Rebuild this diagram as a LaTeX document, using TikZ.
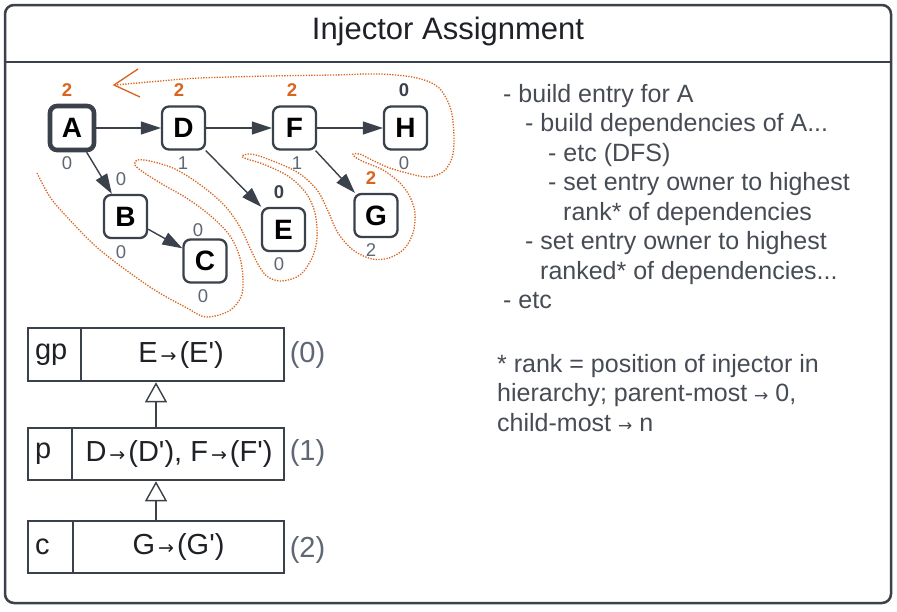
\documentclass[tikz,border=0pt]{standalone}
\usepackage{fontspec}
\setmainfont{Liberation Sans}
\newfontfamily\arrowfont{DejaVu Sans}
\usetikzlibrary{arrows.meta}
\definecolor{ink}{HTML}{3A414A}
\definecolor{orng}{HTML}{D9641E}
\definecolor{lgray}{HTML}{5F6773}
\definecolor{txt}{HTML}{474C54}
\definecolor{blk}{HTML}{1E2125}
\newcommand{\myarr}{{\hspace{3pt}\arrowfont\fontsize{19}{19}\selectfont →\hspace{3pt}}}
\newcommand{\smarr}{{\arrowfont\fontsize{17}{17}\selectfont →}}
\newcommand{\q}{\textquotesingle}
\begin{document}
\begin{tikzpicture}[x=1pt,y=-1pt,
  gnode/.style={draw=ink, line width=2.3pt, rounded corners=7pt, fill=white,
    minimum size=43pt, inner sep=0pt, text=black, font=\fontsize{28}{28}\selectfont\bfseries},
  edge/.style={draw=ink, line width=1.4pt, -{Triangle[length=20pt,width=13pt]}},
  olab/.style={text=orng, font=\fontsize{18.5}{18.5}\selectfont\bfseries, inner sep=0pt},
  dlab/.style={text=ink, font=\fontsize{18.5}{18.5}\selectfont\bfseries, inner sep=0pt},
  glab/.style={text=lgray, font=\fontsize{18.5}{18.5}\selectfont, inner sep=0pt},
  box/.style={draw=ink, line width=2.5pt, inner sep=0pt},
  cell/.style={draw=ink, line width=2.5pt, inner xsep=7pt, inner ysep=0pt, align=left,
    text=blk, font=\fontsize{29}{29}\selectfont},
  boxtext/.style={text=blk, font=\fontsize{29}{29}\selectfont, inner sep=0pt},
  rank/.style={text=lgray, font=\fontsize{29}{29}\selectfont, inner sep=0pt},
  inh/.style={draw=ink, line width=1.4pt, -{Triangle[open, length=20pt, width=22pt, fill=white]}},
  note/.style={text=txt, font=\fontsize{25}{29.5}\selectfont, inner sep=0pt, anchor=base west},
  dotpath/.style={draw=orng, line width=1.3pt, dash pattern=on 1.3pt off 1.4pt}
]
\useasboundingbox (0,0) rectangle (897,611);
\fill[white] (0,0) rectangle (897,611);

% frame
\draw[ink, line width=2.5pt, rounded corners=9pt] (5,5) rectangle (891,603);
\draw[ink, line width=2.5pt] (5,62) -- (891,62);
\node[text=blk, font=\fontsize{31}{31}\selectfont, inner sep=0pt] (title) at (448,31) {Injector Assignment};

% DFS path
\draw[dotpath] plot[smooth, tension=0.55] coordinates {
 (37,173) (50,197) (67,217) (100,250) (150,287) (187,308) (206,317) (229,311)
 (241,297) (243,280) (240,258) (230,236) (212,217) (188,199) (162,184) (143,172)
 (135,165) (137,160) (150,161) (175,169) (202,186) (225,206) (240,227) (250,248)
 (259,266) (268,277) (282,281) (300,275) (312,258) (317,238) (315,213) (306,193)
 (288,176) (263,164) (247,159) (242,156) (250,154) (265,158) (297,172) (317,190)
 (328,211) (338,233) (353,250) (372,259) (389,258) (404,249) (413,233) (415,213)
 (410,197) (400,183) (383,170) (364,162) (355,157) (353,154) (360,154) (368,158)
 (387,167) (407,173) (427,177) (443,172) (452,158) (454,138) (451,110) (439,88)
 (417,78) (380,74) (333,75) (270,76) (200,78) (160,81) (116,85)};
\coordinate (tip) at (114,85);
\coordinate (armA) at (138,69);
\coordinate (armB) at (140,97);
\draw[orng, line width=1.3pt] (armA) -- (tip) -- (armB);

% graph nodes
\node[gnode, line width=4.6pt, minimum size=44pt] (A) at (72,128) {A};
\node[gnode] (D) at (183.5,128) {D};
\node[gnode] (F) at (294.5,128) {F};
\node[gnode] (H) at (405.5,128) {H};
\node[gnode] (B) at (125.5,216.5) {B};
\node[gnode] (C) at (205,261) {C};
\node[gnode] (E) at (283.5,229.5) {E};
\node[gnode] (G) at (376,215.5) {G};

\draw[edge] (A) -- (D);
\draw[edge] (D) -- (F);
\draw[edge] (F) -- (H);
\draw[edge] (A) -- (B);
\draw[edge] (B) -- (C);
\draw[edge] (D) -- (E);
\draw[edge] (F) -- (G);

% labels
\node[olab] (At) at (67,90) {2};
\node[glab] (Ab) at (67,163) {0};
\node[olab] (Dt) at (179,90) {2};
\node[glab] (Db) at (183,163) {1};
\node[olab] (Ft) at (292,90) {2};
\node[glab] (Fb) at (297,163) {1};
\node[dlab] (Ht) at (404,90) {0};
\node[glab] (Hb) at (404,163) {0};
\node[glab] (Bt) at (121,179) {0};
\node[glab] (Bb) at (121,252) {0};
\node[glab] (Ct) at (198,230) {0};
\node[glab] (Cb) at (203,296) {0};
\node[dlab] (Et) at (279,192) {0};
\node[glab] (Eb) at (279,264) {0};
\node[olab] (Gt) at (371,178) {2};
\node[glab] (Gb) at (371,250) {2};

% injector boxes
\node[box, minimum width=256pt, minimum height=53pt] (gp) at (156,354.5) {};
\node[cell, minimum height=53pt, text width=39pt, anchor=west] (gpL) at (gp.west) {gp};
\node[boxtext] (gpT) at (181,355) {E\myarr(E\q)};
\node[rank] (gpR) at (307.5,355) {(0)};

\node[box, minimum width=256pt, minimum height=52pt] (p) at (156,454) {};
\node[cell, minimum height=52pt, text width=30pt, anchor=west] (pL) at (p.west) {p};
\node[boxtext] (pT) at (179,454) {D\myarr(D\q), F\myarr(F\q)};
\node[rank] (pR) at (307.5,453) {(1)};

\node[box, minimum width=256pt, minimum height=52pt] (c) at (156,547) {};
\node[cell, minimum height=52pt, text width=31pt, anchor=west] (cL) at (c.west) {c};
\node[boxtext] (cT) at (178.5,547) {G\myarr(G\q)};
\node[rank] (cR) at (307.5,550) {(2)};

\draw[inh] (p.north) -- (gp.south);
\draw[inh] (c.north) -- (p.south);

% notes
\node[note] (n1) at (503,102) {- build entry for A};
\node[note] (n2) at (525,131.5) {- build dependencies of A...};
\node[note] (n3) at (548,161) {- etc (DFS)};
\node[note] (n4) at (548,190.5) {- set entry owner to highest};
\node[note] (n5) at (563,220) {rank* of dependencies};
\node[note] (n6) at (525,249.5) {- set entry owner to highest};
\node[note] (n7) at (540,279) {ranked* of dependencies...};
\node[note] (n8) at (503,308.5) {- etc};

\node[note] (f1) at (497,372) {* rank = position of injector in};
\node[note] (f2) at (497,401.5) {hierarchy; parent-most \smarr{} 0,};
\node[note] (f3) at (497,431) {child-most \smarr{} n};
\end{tikzpicture}
\end{document}
